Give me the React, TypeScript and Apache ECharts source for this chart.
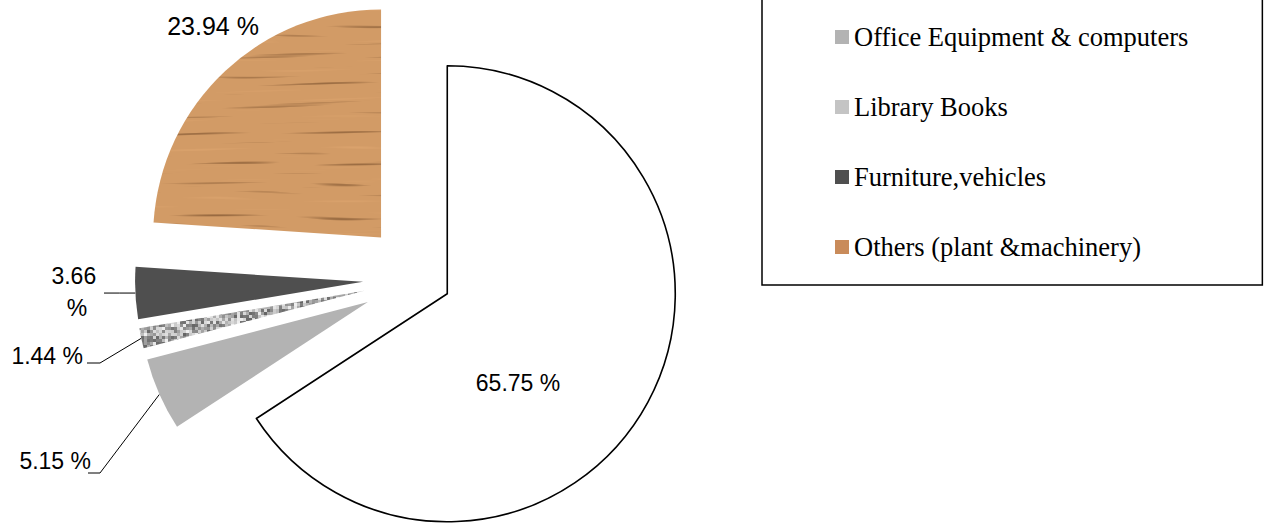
import React, { useEffect, useRef } from "react";
import * as echarts from "echarts";

// ---- data ----
const categories = [
  "",
  "Office Equipment & computers",
  "Library Books",
  "Furniture,vehicles",
  "Others (plant &machinery)",
];
const values = [65.75, 5.15, 1.44, 3.66, 23.94];
const legendNames = [
  "Office Equipment & computers",
  "Library Books",
  "Furniture,vehicles",
  "Others (plant &machinery)",
];

function makeWood(): HTMLCanvasElement {
  const w = 640, h = 260;
  const c = document.createElement("canvas");
  c.width = w; c.height = h;
  const ctx = c.getContext("2d")!;
  const img = ctx.createImageData(w, h);
  for (let y = 0; y < h; y++) {
    for (let x = 0; x < w; x++) {
      const wave = Math.sin(x * 0.011 + y * 0.03) * 2.5 + Math.sin(x * 0.031 + y * 0.2) * 0.8;
      const yy = y + wave;
      const g1 = Math.sin(yy * 0.62);
      const g2 = Math.sin(yy * 1.37 + 0.7);
      const g3 = Math.sin(yy * 0.23 + 2.1);
      const fade = 0.6 + 0.4 * Math.sin(x * 0.045 + y * 0.37);
      const v = (0.55 * g1 + 0.3 * g2 + 0.35 * g3) * fade + 0.12 * Math.sin(x * 0.05 + y * 0.9);
      const streak = Math.max(0, v - 0.4);
      const light = Math.max(0, -v - 0.5) * 0.6;
      const i = (y * w + x) * 4;
      img.data[i] = 210 - streak * 80 + light * 18;
      img.data[i + 1] = 155 - streak * 68 + light * 16;
      img.data[i + 2] = 102 - streak * 52 + light * 14;
      img.data[i + 3] = 255;
    }
  }
  ctx.putImageData(img, 0, 0);
  return c;
}

function makeSpeckle(): HTMLCanvasElement {
  const w = 60, h = 60, s = 3;
  const c = document.createElement("canvas");
  c.width = w; c.height = h;
  const ctx = c.getContext("2d")!;
  for (let j = 0; j < h / s; j++) {
    for (let i = 0; i < w / s; i++) {
      const t = Math.sin(i * 12.9898 + j * 78.233) * 43758.5453;
      const v = t - Math.floor(t);
      const g = Math.round(100 + v * 140);
      ctx.fillStyle = `rgb(${g},${g},${g})`;
      ctx.fillRect(i * s, j * s, s, s);
    }
  }
  return c;
}

export default function App() {
  const ref = useRef<HTMLDivElement>(null);
  useEffect(() => {
    const el = ref.current!;
    const chart = echarts.init(el, null, { renderer: "svg" });
    const wood = makeWood();
    const speckle = makeSpeckle();
    const fills: any[] = [
      "#ffffff",
      "#b3b3b3",
      { image: speckle, repeat: "repeat" },
      "#4f4f4f",
      { image: wood, repeat: "repeat" },
    ];
    const legendFills = ["#b3b3b3", "#c4c4c4", "#4f4f4f", "#c98b5a"];
    const baseCenter = [420, 279];
    const radius = 228;
    const explode = [31, 57, 57, 57, 57];
    const total = values.reduce((a, b) => a + b, 0);
    let acc = 0;
    const mids = values.map((v) => {
      const m = ((acc + v / 2) / total) * 2 * Math.PI;
      acc += v;
      return m;
    });
    const centers = values.map((_, i) => [
      baseCenter[0] + explode[i] * Math.sin(mids[i]),
      baseCenter[1] - explode[i] * Math.cos(mids[i]),
    ]);
    const labelPlace: Record<number, any> = {
      0: { x: 518, y: 383, align: "center" },
      1: { x: 91, y: 461, align: "right", line: [[100, 473], [88, 473]] },
      2: { x: 83, y: 356, align: "right", line: [[100, 363], [87, 363]] },
      3: { x: 77, y: 292, align: "center", line: [[104, 0]] },
      4: { x: 213, y: 26, align: "center" },
    };

    const series = values.map((_, i) => ({
      type: "pie",
      center: centers[i],
      radius,
      startAngle: 90,
      clockwise: true,
      avoidLabelOverlap: false,
      silent: true,
      emphasis: { disabled: true },
      z: i === 0 ? 1 : 2,
      data: values.map((v, j) => ({
        name: categories[j],
        value: v,
        itemStyle:
          j === i
            ? { color: fills[j], borderColor: "#000", borderWidth: j === 0 ? 1.6 : 0 }
            : { color: "transparent", borderWidth: 0 },
        label: { show: j === i },
        labelLine: { show: j === i && !!labelPlace[j].line },
      })),
      label: {
        position: i === 0 ? "inside" : "outside",
        formatter: "{c} %",
        fontFamily: "Liberation Sans",
        fontSize: i === 4 ? 25 : 23,
        color: "#000",
        ...(i === 3 ? { width: 52, overflow: "break", lineHeight: 32, align: "center" } : {}),
      },
      labelLine: { lineStyle: { color: "#000", width: 1 }, length: 10, length2: 10, smooth: false },
      labelLayout: (p: any) => {
        const pl = labelPlace[p.dataIndex];
        const out: any = { x: pl.x, y: pl.y, align: pl.align, verticalAlign: "middle" };
        if (pl.line) {
          const c = centers[i];
          const p0 =
            p.labelLinePoints && p.labelLinePoints[0]
              ? p.labelLinePoints[0]
              : [c[0] + radius * Math.sin(mids[i]), c[1] - radius * Math.cos(mids[i])];
          if (pl.line.length === 1) {
            out.labelLinePoints = [p0, [(p0[0] + pl.line[0][0]) / 2, p0[1]], [pl.line[0][0], p0[1]]];
          } else {
            out.labelLinePoints = [p0, pl.line[0], pl.line[1]];
          }
        }
        return out;
      },
    }));

    chart.setOption({
      animation: false,
      backgroundColor: "#ffffff",
      legend: {
        orient: "vertical",
        left: 762,
        top: -10,
        padding: [32, 74, 23, 73],
        borderColor: "#000",
        borderWidth: 1.5,
        itemWidth: 14,
        itemHeight: 14,
        itemGap: 40,
        selectedMode: false,
        icon: "rect",
        textStyle: { fontFamily: "Liberation Serif", fontSize: 26.5, color: "#000", lineHeight: 30 },
        data: legendNames.map((n, k) => ({ name: n, itemStyle: { color: legendFills[k] } })),
      },
      series,
    } as any);
    return () => chart.dispose();
  }, []);
  return (
    <div
      ref={ref}
      style={{ position: "fixed", left: 0, top: 0, width: 1268, height: 523, background: "#fff" }}
    />
  );
}
